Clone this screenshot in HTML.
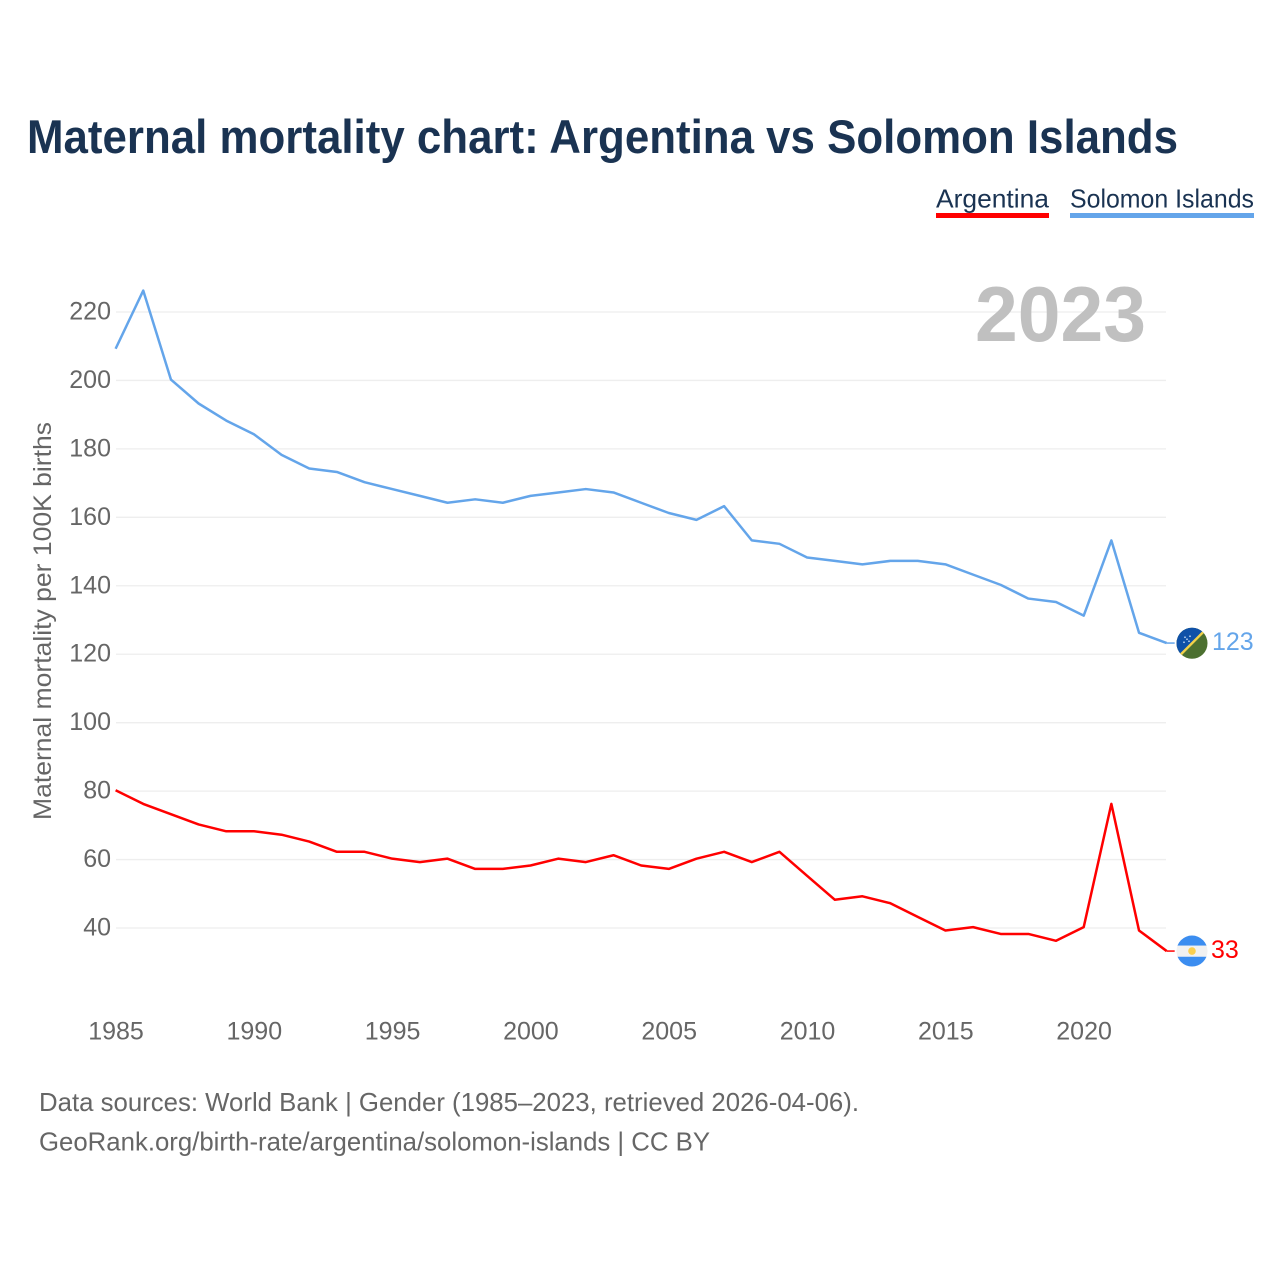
<!DOCTYPE html>
<html lang="en">
<head>
<meta charset="utf-8">
<title>Maternal mortality chart: Argentina vs Solomon Islands</title>
<style>
html,body{margin:0;padding:0;background:#fff;width:1280px;height:1280px;overflow:hidden}
svg{display:block;font-family:"Liberation Sans",sans-serif}
</style>
</head>
<body>
<svg id="chart" xmlns="http://www.w3.org/2000/svg" width="1280" height="1280" viewBox="0 0 1280 1280">
  <rect width="1280" height="1280" fill="#fff"/>
  <text x="27" y="153" font-size="47" font-weight="700" fill="#1a3352" textLength="1151" lengthAdjust="spacingAndGlyphs">Maternal mortality chart: Argentina vs Solomon Islands</text>
  <g>
    <g>
      <text x="936" y="207.5" font-size="26" fill="#1a3352" textLength="113" lengthAdjust="spacingAndGlyphs">Argentina</text>
      <rect x="936" y="213" width="113" height="5" fill="#ff0000"/>
    </g>
    <g>
      <text x="1070" y="207.5" font-size="26" fill="#1a3352" textLength="184" lengthAdjust="spacingAndGlyphs">Solomon Islands</text>
      <rect x="1070" y="213" width="184" height="5" fill="#64a5ea"/>
    </g>
  </g>
  <g id="grid"></g>
  <g id="yticks"></g>
  <g id="xticks"></g>
  <text transform="translate(51 621) rotate(-90)" text-anchor="middle" font-size="25" fill="#666" textLength="398" lengthAdjust="spacingAndGlyphs">Maternal mortality per 100K births</text>
  <text id="year" x="975" y="341" font-size="78" font-weight="700" fill="#c0c0c0" textLength="171" lengthAdjust="spacingAndGlyphs">2023</text>
  <g id="series" transform="translate(-0.4 -0.9)"></g>
  <defs>
    <clipPath id="flag-clip-sb"><circle id="clip-sb" r="15.5"/></clipPath>
    <clipPath id="flag-clip-ar"><circle id="clip-ar" r="15.5"/></clipPath>
  </defs>
  <g id="flag-sb"></g>
  <g id="flag-ar"></g>
  <text id="value-sb" font-size="25" fill="#64a5ea"></text>
  <text id="value-ar" font-size="25" fill="#ff0000"></text>
  <text x="39" y="1111" font-size="26" fill="#666" textLength="820" lengthAdjust="spacingAndGlyphs">Data sources: World Bank | Gender (1985–2023, retrieved 2026-04-06).</text>
  <text x="39" y="1150.5" font-size="26" fill="#666" textLength="671" lengthAdjust="spacingAndGlyphs">GeoRank.org/birth-rate/argentina/solomon-islands | CC BY</text>
</svg>
<script>
const years = [1985,1986,1987,1988,1989,1990,1991,1992,1993,1994,1995,1996,1997,1998,1999,2000,2001,2002,2003,2004,2005,2006,2007,2008,2009,2010,2011,2012,2013,2014,2015,2016,2017,2018,2019,2020,2021,2022,2023];
const argentina = [80,76,73,70,68,68,67,65,62,62,60,59,60,57,57,58,60,59,61,58,57,60,62,59,62,55,48,49,47,43,39,40,38,38,36,40,76,39,33];
const solomonIslands = [209,226,200,193,188,184,178,174,173,170,168,166,164,165,164,166,167,168,167,164,161,159,163,153,152,148,147,146,147,147,146,143,140,136,135,131,153,126,123];
const yTicks = [40,60,80,100,120,140,160,180,200,220];
const xTicks = [1985,1990,1995,2000,2005,2010,2015,2020];

const NS = 'http://www.w3.org/2000/svg';
function xScale(v){ return 116 + (v - 1985) * 27.66; }
function yScale(v){ return 928 - (v - 40) * 3.4222; }
function make(tag, attrs, parent){
  const el = document.createElementNS(NS, tag);
  for (const k in attrs) el.setAttribute(k, attrs[k]);
  parent.appendChild(el);
  return el;
}
const grid = document.getElementById('grid');
const yG = document.getElementById('yticks');
const xG = document.getElementById('xticks');
const seriesG = document.getElementById('series');

yTicks.forEach(function(t){
  const line = make('line', {x1:116, x2:1166, y1:yScale(t), y2:yScale(t), stroke:'#eeeeee', 'stroke-width':1.3}, grid);
  
  
  const label = make('text', {x:111, y:yScale(t) + 7.5, 'text-anchor':'end', 'font-size':25, fill:'#666'}, yG);
  
  
  label.textContent = t;
});
xTicks.forEach(function(t){
  const label = make('text', {x:xScale(t), y:1039.5, 'text-anchor':'middle', 'font-size':25, fill:'#666'}, xG);
  
  
  label.textContent = t;
});

function pathFor(values){
  return values.map(function(v, i){
    return (i ? 'L' : 'M') + xScale(years[i]).toFixed(2) + ' ' + yScale(v).toFixed(2);
  }).join(' ');
}
function endConnector(values){
  const y = yScale(values[values.length - 1]);
  const x = xScale(years[years.length - 1]);
  return 'M' + x.toFixed(2) + ' ' + y.toFixed(2) + ' H' + (x + 8).toFixed(2);
}
const solomonLine = make('path', {d:pathFor(solomonIslands), fill:'none', stroke:'#64a5ea', 'stroke-width':2.5, 'stroke-linejoin':'round'}, seriesG);


const argentinaLine = make('path', {d:pathFor(argentina), fill:'none', stroke:'#ff0000', 'stroke-width':2.5, 'stroke-linejoin':'round'}, seriesG);


const solomonConn = make('path', {d:endConnector(solomonIslands), fill:'none', stroke:'#64a5ea', 'stroke-width':1.5}, seriesG);


const argentinaConn = make('path', {d:endConnector(argentina), fill:'none', stroke:'#ff0000', 'stroke-width':1.5}, seriesG);



const flagX = 1192;
const sbLast = solomonIslands[solomonIslands.length - 1];
const arLast = argentina[argentina.length - 1];
const sbY = yScale(sbLast) - 0.7;
const arY = yScale(arLast) - 0.9;

document.getElementById('clip-sb').setAttribute('cx', flagX);
document.getElementById('clip-sb').setAttribute('cy', sbY);
document.getElementById('clip-ar').setAttribute('cx', flagX);
document.getElementById('clip-ar').setAttribute('cy', arY);

const sbG = document.getElementById('flag-sb');
sbG.setAttribute('clip-path', 'url(#flag-clip-sb)');
make('rect', {x:flagX-16, y:sbY-16, width:32, height:32, fill:'#4c7030'}, sbG);
make('path', {d:'M'+(flagX-16)+' '+(sbY-16)+' H'+(flagX+16)+' L'+(flagX-16)+' '+(sbY+16)+' Z', fill:'#0f51a8'}, sbG);
make('path', {d:'M'+(flagX-16)+' '+(sbY+16)+' L'+(flagX+16)+' '+(sbY-16), stroke:'#f2d24a', 'stroke-width':2.4}, sbG);
[[-7,-6],[-2,-7],[-8,-1],[-3,-2],[-5,-4]].forEach(function(s){
  make('circle', {cx:flagX+s[0], cy:sbY+s[1], r:0.9, fill:'#b9d0ee'}, sbG);
});

const arG = document.getElementById('flag-ar');
arG.setAttribute('clip-path', 'url(#flag-clip-ar)');
make('rect', {x:flagX-16, y:arY-16, width:32, height:32, fill:'#f1f1f1'}, arG);
make('rect', {x:flagX-16, y:arY-16, width:32, height:10.5, fill:'#3b8df0'}, arG);
make('rect', {x:flagX-16, y:arY+5.7, width:32, height:10.5, fill:'#3b8df0'}, arG);
make('circle', {cx:flagX, cy:arY, r:3.8, fill:'#fbcf4f'}, arG);

const vSb = document.getElementById('value-sb');
vSb.setAttribute('x', 1212);
vSb.setAttribute('y', yScale(sbLast) + 6);
vSb.textContent = sbLast;
const vAr = document.getElementById('value-ar');
vAr.setAttribute('x', 1211);
vAr.setAttribute('y', yScale(arLast) + 6);
vAr.textContent = arLast;
</script>
</body>
</html>
